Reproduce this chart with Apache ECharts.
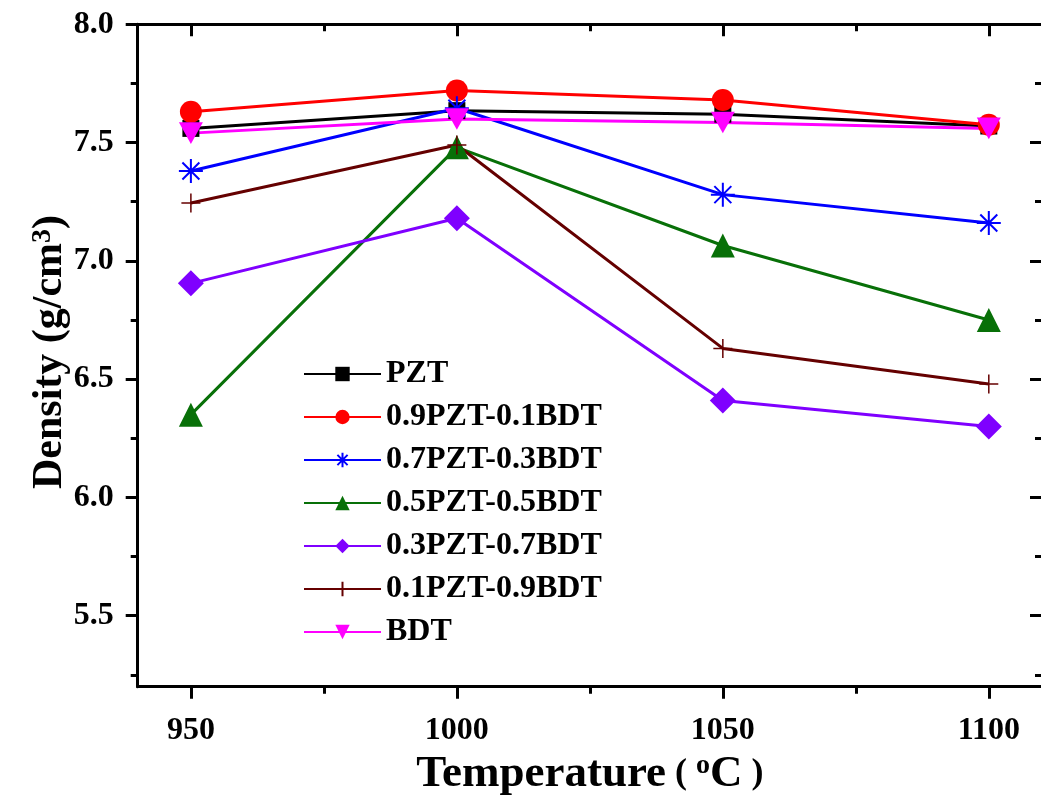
<!DOCTYPE html>
<html>
<head>
<meta charset="utf-8">
<script src="https://cdn.jsdelivr.net/npm/echarts@6/dist/echarts.min.js"></script>
<style>html,body{margin:0;padding:0;background:#fff}#c{width:1041px;height:796px}</style>
</head>
<body>
<div id="c"></div>
<script>
// ---- data ----
var temps = [950, 1000, 1050, 1100];
var seriesNames = ['PZT', '0.9PZT-0.1BDT', '0.7PZT-0.3BDT', '0.5PZT-0.5BDT', '0.3PZT-0.7BDT', '0.1PZT-0.9BDT', 'BDT'];
var pzt    = [7.56, 7.635, 7.62, 7.57];
var pzt09  = [7.63, 7.72, 7.68, 7.575];
var pzt07  = [7.38, 7.645, 7.28, 7.16];
var pzt05  = [6.35, 7.48, 7.065, 6.75];
var pzt03  = [6.905, 7.18, 6.41, 6.30];
var pzt01  = [7.245, 7.49, 6.63, 6.48];
var bdt    = [7.54, 7.60, 7.585, 7.56];
var xMajor = [950, 1000, 1050, 1100];
var xMinor = [975, 1025, 1075];
var yMajor = [5.5, 6.0, 6.5, 7.0, 7.5, 8.0];
var yMinor = [5.25, 5.75, 6.25, 6.75, 7.25, 7.75];
var xTitle = 'Temperature{p| ( }{sup|o}{c|C}{p| )}';
var yTitle = 'Density (g/cm{sup|3})';

var FONT = '"Liberation Serif", "Times New Roman", serif';
var chart = echarts.init(document.getElementById('c'));

function pairs(vals) { return temps.map(function (t, i) { return [t, vals[i]]; }); }

var X0 = 940, X1 = 1110, Y0 = 5.2, Y1 = 8.0;

function xAx(pos, ticks, len, inside, showLine, label, name) {
  var a = {
    type: 'value', position: pos, min: X0, max: X1,
    axisLine: { show: showLine, onZero: false, lineStyle: { color: '#000', width: 3 } },
    axisTick: { show: true, customValues: ticks, inside: inside, length: len, lineStyle: { color: '#000', width: 3 } },
    axisLabel: label ? { show: true, customValues: ticks, margin: 28, fontFamily: FONT, fontWeight: 'bold', fontSize: 32, color: '#000',
      formatter: function (v) { return String(v); } } : { show: false },
    splitLine: { show: false }
  };
  if (name) {
    a.name = name;
    a.nameLocation = 'middle';
    a.nameGap = 62;
    a.nameTextStyle = {
      fontFamily: FONT, fontWeight: 'bold', fontSize: 45, color: '#000', verticalAlign: 'top',
      rich: {
        p: { fontFamily: FONT, fontWeight: 'bold', fontSize: 36, color: '#000' },
        sup: { fontFamily: FONT, fontWeight: 'bold', fontSize: 28, color: '#000', verticalAlign: 'top', lineHeight: 22 },
        c: { fontFamily: FONT, fontWeight: 'bold', fontSize: 45, color: '#000' }
      }
    };
  }
  return a;
}
function yAx(pos, ticks, len, inside, showLine, label) {
  return {
    type: 'value', position: pos, min: Y0, max: Y1,
    axisLine: { show: showLine, onZero: false, lineStyle: { color: '#000', width: 3 } },
    axisTick: { show: true, customValues: ticks, inside: inside, length: len, lineStyle: { color: '#000', width: 3 } },
    axisLabel: label ? { show: true, customValues: ticks, margin: 24, fontFamily: FONT, fontWeight: 'bold', fontSize: 32, color: '#000',
      formatter: function (v) { return v.toFixed(1); } } : { show: false },
    splitLine: { show: false }
  };
}

var asterisk = 'path://M10,0L10,20M0,10L20,10M2.93,2.93L17.07,17.07M2.93,17.07L17.07,2.93';
var plus = 'path://M10,0L10,20M0,10L20,10';
var downTri = 'path://M0,0L20,0L10,18Z';

var defs = [
  { name: seriesNames[0], data: pzt,   color: '#000000', symbol: 'rect', size: 17 },
  { name: seriesNames[1], data: pzt09, color: '#ff0000', symbol: 'circle', size: 22 },
  { name: seriesNames[2], data: pzt07, color: '#0000ff', symbol: asterisk, size: 24, stroke: 2 },
  { name: seriesNames[3], data: pzt05, color: '#087008', symbol: 'triangle', size: 24 },
  { name: seriesNames[4], data: pzt03, color: '#7f00ff', symbol: 'diamond', size: 26 },
  { name: seriesNames[5], data: pzt01, color: '#650000', symbol: plus, size: 19, stroke: 1.5 },
  { name: seriesNames[6], data: bdt,   color: '#ff00ff', symbol: downTri, size: 24 }
];

var series = defs.map(function (d) {
  var item = d.stroke
    ? { color: 'rgba(0,0,0,0)', borderColor: d.color, borderWidth: d.stroke }
    : { color: d.color };
  return {
    type: 'line', name: d.name, data: pairs(d.data),
    xAxisIndex: 0, yAxisIndex: 0,
    symbol: d.symbol, symbolSize: d.size, symbolKeepAspect: true, showSymbol: true,
    lineStyle: { color: d.color, width: 3 },
    itemStyle: item,
    emphasis: { disabled: true },
    animation: false
  };
});

var option = {
  backgroundColor: '#fff',
  animation: false,
  grid: { left: 137.7, top: 24.3, right: -1, bottom: 109.3, containLabel: false, outerBoundsMode: 'none' },
  legend: {
    orient: 'vertical', left: 298, top: 353, padding: 5,
    itemWidth: 77, itemHeight: 18, itemGap: 11,
    textStyle: { fontFamily: FONT, fontWeight: 'bold', fontSize: 32, color: '#000', lineHeight: 31 },
    data: seriesNames
  },
  graphic: [{
    type: 'text', x: 50, y: 352, rotation: Math.PI / 2, silent: true,
    style: {
      text: yTitle, align: 'center', verticalAlign: 'middle',
      fontFamily: FONT, fontWeight: 'bold', fontSize: 42, fill: '#000',
      rich: { sup: { fontFamily: FONT, fontWeight: 'bold', fontSize: 28, fill: '#000', verticalAlign: 'top', lineHeight: 22 } }
    }
  }],
  xAxis: [
    xAx('bottom', xMajor, 12, false, true, true, xTitle),
    xAx('bottom', xMinor, 7, false, false, false),
    xAx('top', xMajor, 12, true, true, false),
    xAx('top', xMinor, 7, true, false, false)
  ],
  yAxis: [
    yAx('left', yMajor, 12, false, true, true),
    yAx('left', yMinor, 7, false, false, false),
    yAx('right', yMajor, 12, true, true, false),
    yAx('right', yMinor, 7, true, false, false)
  ],
  series: series
};
chart.setOption(option);
</script>
</body>
</html>
